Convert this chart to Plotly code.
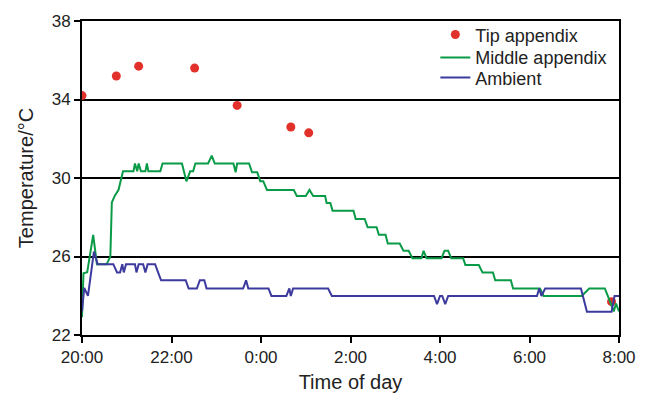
import pandas as pd
import plotly.graph_objects as go

# minutes after 20:00
tip_min = [0, 46, 76, 151, 208, 280, 304, 710]
tip_temp = [34.2, 35.2, 35.7, 35.6, 33.7, 32.6, 32.3, 23.7]

mid_min = [0, 2, 7, 15, 20, 33, 38, 40, 44, 49, 52, 55, 69, 71, 74, 76, 79, 85, 87, 89,
           105, 108, 134, 140, 145, 149, 152, 169, 174, 178, 203, 206, 208, 224, 228, 235,
           239, 243, 248, 284, 288, 300, 305, 310, 326, 328, 333, 336, 364, 367, 379, 383,
           395, 398, 407, 410, 426, 431, 438, 443, 455, 458, 462, 482, 486, 491, 495, 511,
           514, 532, 537, 551, 554, 575, 578, 614, 619, 670, 680, 701, 705, 713, 716, 720]
mid_temp = [22.9, 25.15, 25.2, 27.1, 25.6, 25.6, 26.0, 28.75, 29.1, 29.4, 29.87, 30.34, 30.34,
            30.74, 30.34, 30.74, 30.34, 30.34, 30.74, 30.34, 30.34, 30.74, 30.74, 29.83, 30.34,
            30.34, 30.74, 30.74, 31.14, 30.74, 30.74, 30.29, 30.74, 30.74, 30.29, 30.29, 29.84,
            29.84, 29.39, 29.39, 29.08, 29.08, 29.39, 29.08, 29.08, 28.72, 28.72, 28.33, 28.33,
            27.91, 27.91, 27.49, 27.49, 27.11, 27.11, 26.66, 26.66, 26.29, 26.29, 25.91, 25.91,
            26.29, 25.91, 25.91, 26.29, 26.29, 25.91, 25.91, 25.57, 25.57, 25.19, 25.19, 24.79,
            24.79, 24.37, 24.37, 23.99, 23.99, 24.37, 24.37, 23.99, 23.2, 23.6, 23.2]

amb_min = [0, 3, 8, 16, 21, 42, 47, 51, 54, 56, 59, 71, 73, 76, 82, 85, 88, 98, 102, 106,
           139, 143, 154, 158, 164, 167, 216, 220, 223, 250, 254, 274, 278, 280, 283, 330,
           335, 472, 476, 480, 483, 487, 491, 610, 613, 616, 621, 669, 677, 710, 714, 720]
amb_temp = [23.2, 24.4, 23.99, 26.25, 25.61, 25.61, 25.19, 25.19, 25.61, 25.19, 25.61, 25.61,
            25.19, 25.61, 25.61, 25.19, 25.61, 25.61, 25.19, 24.79, 24.79, 24.37, 24.37, 24.79,
            24.79, 24.37, 24.37, 24.79, 24.37, 24.37, 23.99, 23.99, 24.37, 23.99, 24.37, 24.37,
            23.99, 23.99, 23.57, 23.99, 23.99, 23.57, 23.99, 23.99, 24.37, 23.99, 24.37, 24.37,
            23.18, 23.18, 23.99, 23.99]

y_ticks = [22, 26, 30, 34, 38]

start = pd.Timestamp("2000-01-01 20:00")


def to_time(mins):
    return [start + pd.Timedelta(minutes=m) for m in mins]


FONT = "Liberation Sans, Arial, sans-serif"
fig = go.Figure()
fig.add_trace(go.Scatter(x=to_time(tip_min), y=tip_temp, mode="markers", name="Tip appendix",
                         marker=dict(color="#e2312a", size=9), legend="legend"))
fig.add_trace(go.Scatter(x=to_time(mid_min), y=mid_temp, mode="lines", name="Middle appendix",
                         line=dict(color="#0a9b48", width=2), legend="legend2"))
fig.add_trace(go.Scatter(x=to_time(amb_min), y=amb_temp, mode="lines", name="Ambient",
                         line=dict(color="#3d3a9e", width=2), legend="legend3"))

leg_common = dict(x=0.658, xanchor="left", yanchor="middle", bgcolor="rgba(0,0,0,0)",
                  font=dict(size=18, family=FONT, color="#222"), itemwidth=30)

fig.update_layout(
    width=650, height=402,
    margin=dict(l=82, r=31, t=19, b=64),
    paper_bgcolor="white", plot_bgcolor="white",
    font=dict(family=FONT, size=17, color="#222"),
    showlegend=True,
    legend=dict(y=0.956, **leg_common),
    legend2=dict(y=0.883, **leg_common),
    legend3=dict(y=0.819, **leg_common),
    xaxis=dict(
        type="date",
        range=[start, start + pd.Timedelta(hours=12)],
        tick0=start, dtick=2 * 3600 * 1000, tickformat="%-H:%M",
        showgrid=False, zeroline=False,
        showline=True, linecolor="black", linewidth=2, mirror=True,
        ticks="outside", ticklen=6, tickwidth=1.5, tickcolor="black",
        title=dict(text="Time of day", standoff=9),
    ),
    yaxis=dict(
        range=[22, 38], tickvals=y_ticks,
        showgrid=True, gridcolor="black", gridwidth=1.5, zeroline=False,
        showline=True, linecolor="black", linewidth=2, mirror=True,
        ticks="outside", ticklen=6, tickwidth=1.5, tickcolor="black",
        title=dict(text="Temperature/°C", standoff=13),
    ),
)

fig.write_html("out.html", config={"displayModeBar": False},
               post_script="document.body.style.margin='0';")
